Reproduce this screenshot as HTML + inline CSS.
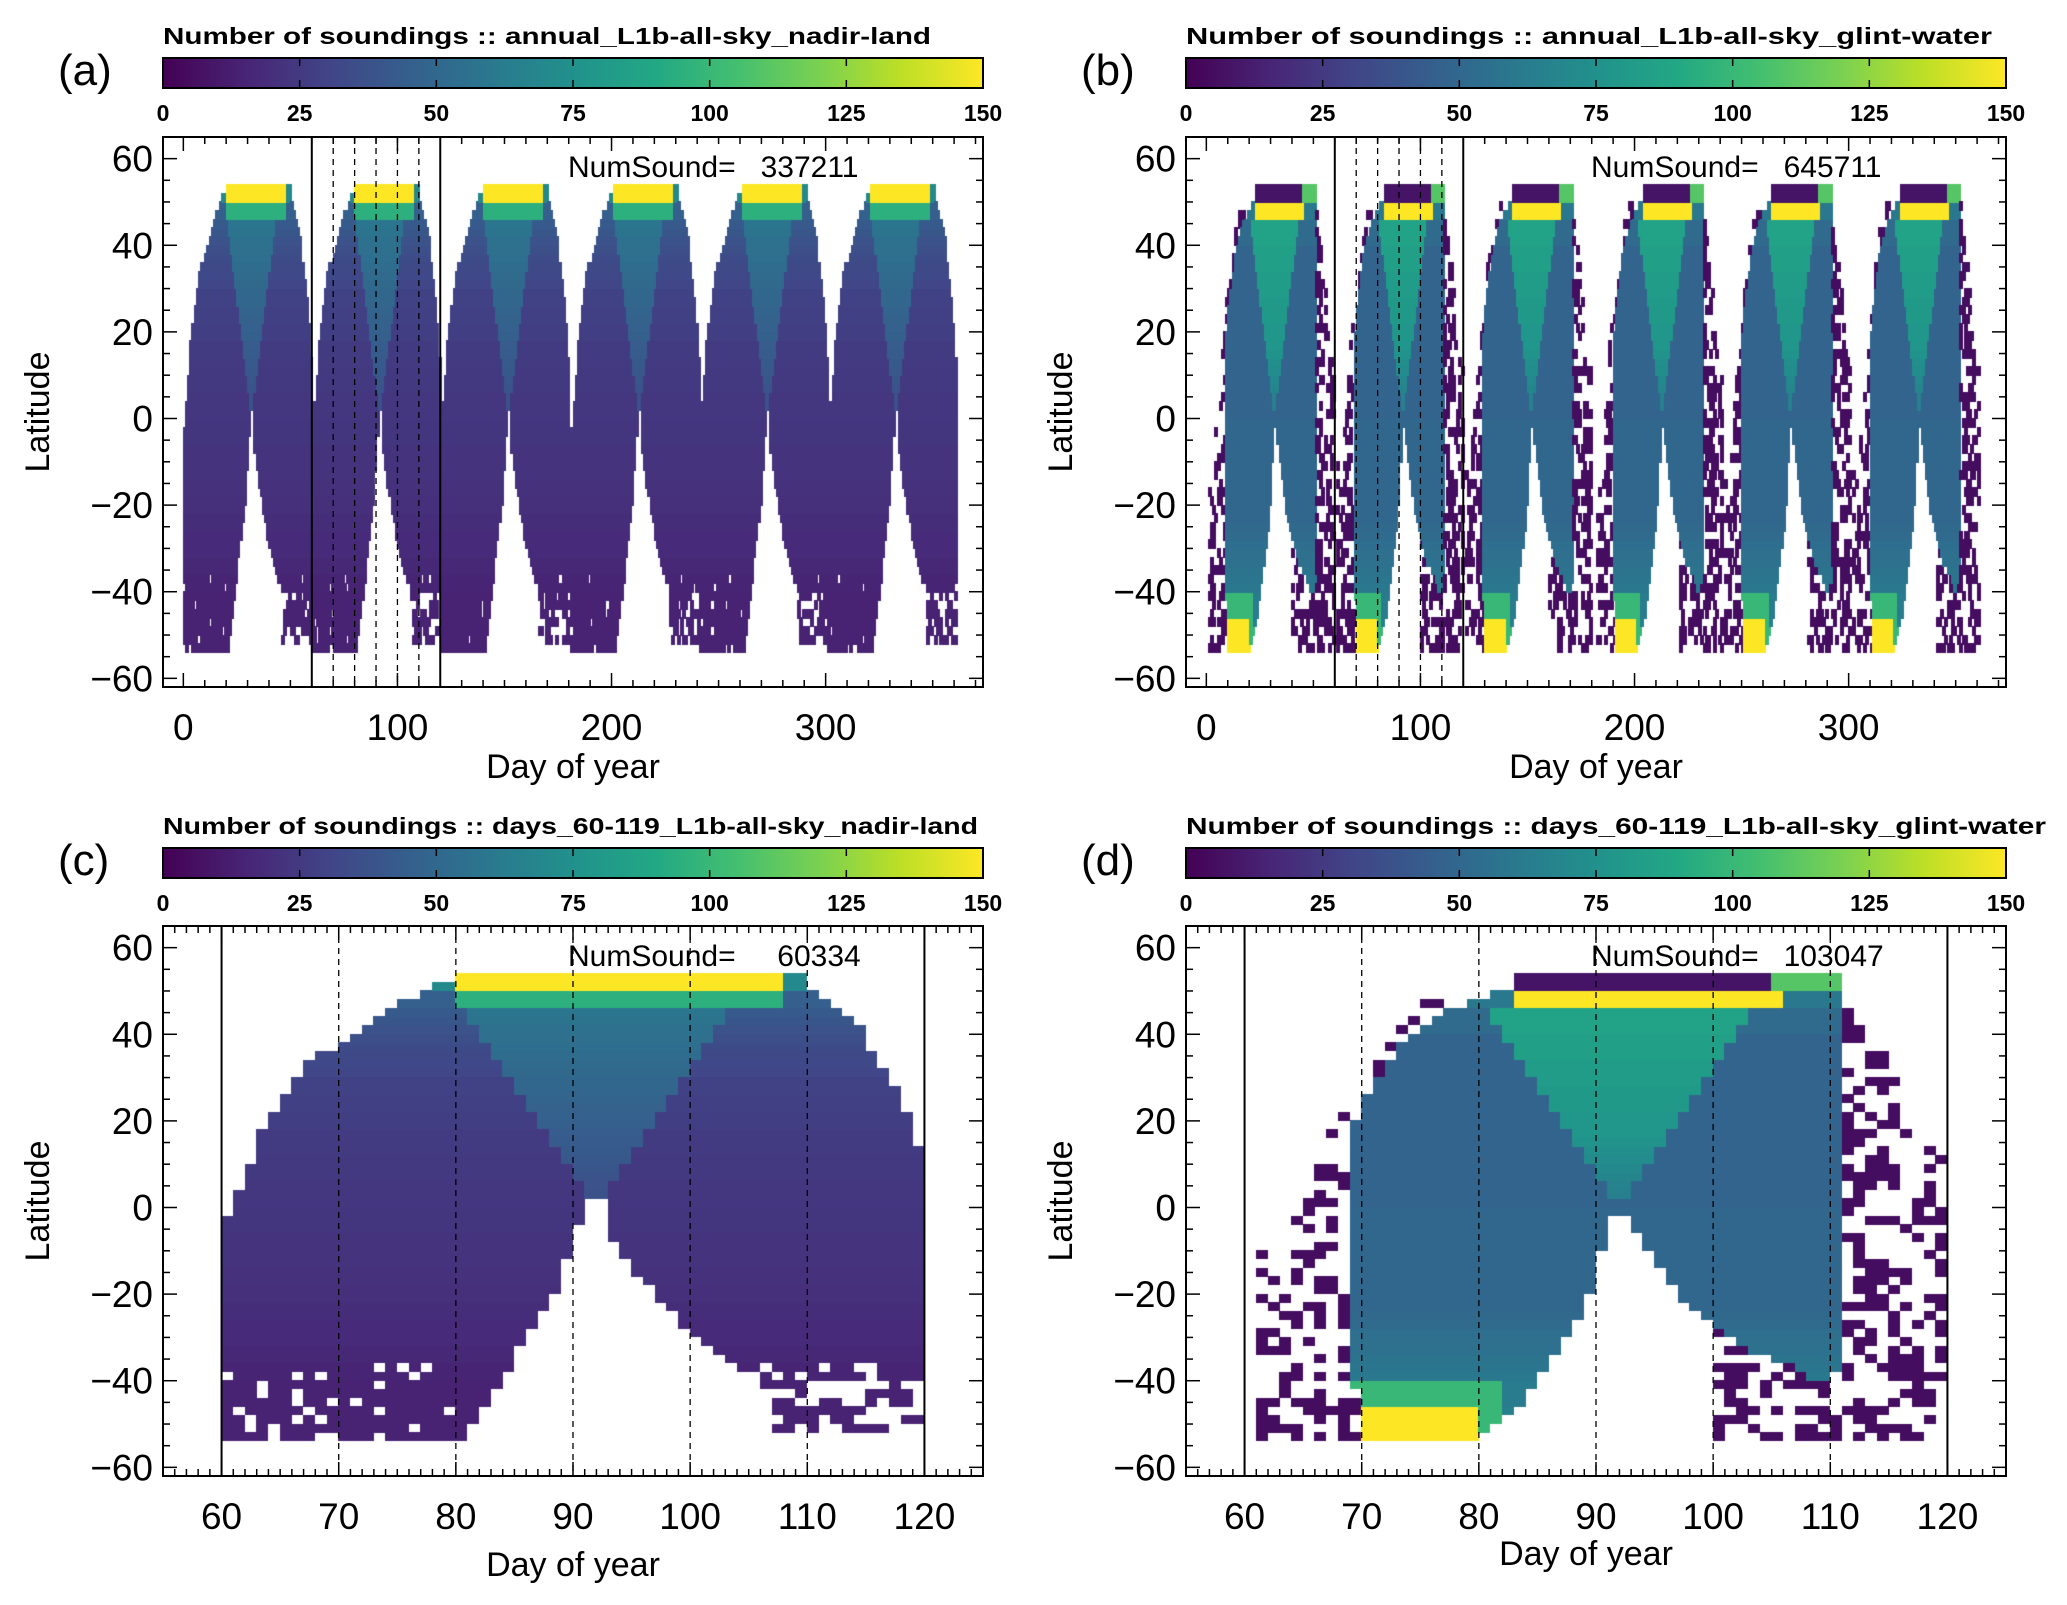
<!DOCTYPE html>
<html><head><meta charset="utf-8">
<style>
html,body{margin:0;padding:0;background:#fff;}
#wrap{position:relative;width:2067px;height:1605px;overflow:hidden;}
canvas,svg{position:absolute;left:0;top:0;}
text{font-family:"Liberation Sans",sans-serif;fill:#000;}
</style></head>
<body>
<div id="wrap">
<canvas id="cv" width="2067" height="1605"></canvas>
<svg id="sv" width="2067" height="1605" xmlns="http://www.w3.org/2000/svg">
<defs>
<linearGradient id="vir" x1="0" x2="1" y1="0" y2="0">
<stop offset="0" stop-color="#440154"/><stop offset="0.1" stop-color="#482475"/><stop offset="0.2" stop-color="#414487"/><stop offset="0.3" stop-color="#355f8d"/><stop offset="0.4" stop-color="#2a788e"/><stop offset="0.5" stop-color="#21918c"/><stop offset="0.6" stop-color="#22a884"/><stop offset="0.7" stop-color="#44bf70"/><stop offset="0.8" stop-color="#7ad151"/><stop offset="0.9" stop-color="#bddf26"/><stop offset="1" stop-color="#fde725"/>
</linearGradient>
</defs>
</svg>
</div>
<script>
// ---- data (one 60-day cycle profile, days 60..119, lat in degrees) ----
const northC=[-2,4,10,17,22,26,30,33,35,36,37,39,41,43,45,47,48,50,51,52,53,53,53,53,53,53,53,53,53,53,53,53,53,53,53,53,53,53,53,53,53,53,53,53,53,53,53,53,53,53,50,48,46,44,41,36,32,27,21,14];
const holeC=[-55,-55,-55,-55,-55,-55,-55,-55,-55,-55,-55,-55,-55,-55,-55,-55,-55,-55,-55,-55,-55,-50,-46,-42,-38,-33,-29,-25,-20,-12,-4,2,2,-8,-13,-16,-19,-22,-25,-28,-30,-33,-35,-37,-38,-39,-40,-40,-40,-40,-40,-40,-40,-40,-40,-40,-40,-40,-40,-40];
const northD=[-60,-8,-14,-20,-2,4,10,18,22,28,30,36,40,44,46,48,50,50,52,53,53,53,53,53,53,53,53,53,53,53,53,53,53,53,53,53,53,53,53,53,53,53,53,53,53,53,53,53,53,53,53,50,44,40,36,30,22,16,14,12];
const denseTopD=[-60,-60,-60,-60,-60,-60,-60,-60,-60,20,26,30,34,37,40,42,44,45,46,47,48,49,50,53,53,53,53,53,53,53,53,53,53,53,53,53,53,53,53,53,53,53,53,53,53,53,53,53,53,53,53,-60,-60,-60,-60,-60,-60,-60,-60,-60];
const holeD=[-55,-55,-55,-55,-55,-55,-55,-55,-55,-42,-55,-55,-55,-55,-55,-55,-55,-55,-55,-55,-52,-50,-48,-46,-42,-38,-35,-30,-26,-20,-10,-2,-2,-6,-10,-14,-18,-22,-24,-26,-28,-30,-32,-34,-34,-36,-37,-38,-40,-40,-38,-55,-55,-55,-55,-55,-55,-55,-55,-55];
// values per 2-degree latitude bin, south (-54) to north (52)
const landBase=[14,14,14,14,14,14,14,15,15,17,17,18,18,18,19,19,20,20,21,21,22,22,22,22,23,23,23,24,24,24,25,25,25,26,26,26,27,27,28,28,29,29,31,32,33,34,36,38,40,42,60,60,60,60];
const landTri=[0,0,0,0,0,0,0,0,0,0,0,0,0,0,0,0,0,0,0,0,0,0,0,0,0,0,0,36,37,38,39,40,41,42,43,44,45,46,47,48,49,50,51,52,53,54,55,56,57,58,60,60,60,60];
const waterBase=[65,65,65,65,62,62,62,60,58,57,56,55,54,52,51,50,50,50,50,50,50,50,50,50,50,50,50,48,48,48,48,48,48,48,48,48,48,48,48,48,48,48,48,48,48,48,48,52,52,52,60,60,60,60];
const waterTri=[0,0,0,0,0,0,0,0,0,0,0,0,0,0,0,0,0,0,0,0,0,0,0,0,0,0,0,62,64,66,68,70,72,74,76,78,78,78,80,80,80,82,82,82,84,84,84,86,86,86,90,90,90,90];
const cycleStarts=[0,60,120,181,241,301];
const cbTicks=[0,25,50,75,100,125,150];
const latTicks=[-60,-40,-20,0,20,40,60];
const annualTicks=[0,100,200,300];
const zoomTicks=[60,70,80,90,100,110,120];
const solidDays=[60,120];
const dashedDays=[70,80,90,100,110];
const panels=[
 {id:'a',kind:'land',annual:true,x0:163,y0:137,title:'Number of soundings :: annual_L1b-all-sky_nadir-land',num:'NumSound=\u00a0\u00a0\u00a0337211',cbY:58},
 {id:'b',kind:'water',annual:true,x0:1186,y0:137,title:'Number of soundings :: annual_L1b-all-sky_glint-water',num:'NumSound=\u00a0\u00a0\u00a0645711',cbY:58},
 {id:'c',kind:'land',annual:false,x0:163,y0:926,title:'Number of soundings :: days_60-119_L1b-all-sky_nadir-land',num:'NumSound=\u00a0\u00a0\u00a0\u00a0\u00a060334',cbY:848},
 {id:'d',kind:'water',annual:false,x0:1186,y0:926,title:'Number of soundings :: days_60-119_L1b-all-sky_glint-water',num:'NumSound=\u00a0\u00a0\u00a0103047',cbY:848}
];
const W=820,H=550;
const VIR=['#440154','#482475','#414487','#355f8d','#2a788e','#21918c','#22a884','#44bf70','#7ad151','#bddf26','#fde725'];
function hx(h){return [parseInt(h.substr(1,2),16),parseInt(h.substr(3,2),16),parseInt(h.substr(5,2),16)];}
function cmap(v){let t=Math.max(0,Math.min(1,v/150))*10;let i=Math.min(9,Math.floor(t));let f=t-i;let a=hx(VIR[i]),b=hx(VIR[i+1]);return 'rgb('+a.map((c,k)=>Math.round(c+(b[k]-c)*f)).join(',')+')';}
function hash(a,b){let h=(a*73856093)^(b*19349663);h=(h^(h>>>13))*1274126177;h=h^(h>>>16);return ((h>>>0)%1000)/1000;}
function landVal(p,Lc,i){
 if(i>=52)return (p>=20&&p<=47)?150:70;
 if(i>=50)return (p>=20&&p<=47)?95:45;
 if(Lc>0&&Math.abs(p-31.5)<0.25*Lc)return landTri[i];
 return landBase[i];
}
function waterVal(p,Lc,i){
 if(i>=52)return (p>=45&&p<=50)?110:8;
 if(i>=50)return (p>=23&&p<=45)?150:60;
 if(p>=10&&p<20&&Lc<-46)return 150;
 if(p>=9&&p<22&&Lc<-40)return 100;
 if(Lc>0&&Math.abs(p-31.5)<0.25*Lc)return waterTri[i];
 return waterBase[i];
}
function cell(kind,p,day,i){
 const Lc=-53+2*i;
 if(kind==='land'){
  if(Lc>northC[p])return null;
  if(Lc<=holeC[p]){
   if(p>=46&&Lc>-53&&hash(day,i)<0.5)return 14;
   return null;
  }
  if(Lc<-36&&(p<20||p>=45)&&hash(day,i)<0.12)return null;
  return landVal(p,Lc,i);
 }else{
  const dt=denseTopD[p];
  if(dt>-60&&Lc<=dt&&Lc>holeD[p])return waterVal(p,Lc,i);
  if(Lc>northD[p])return null;
  if(p>=18&&p<40)return null;
  if(hash(day,i)<0.38)return 5;
  return null;
 }
}
const cv=document.getElementById('cv');const ctx=cv.getContext('2d');
const NS='http://www.w3.org/2000/svg';const sv=document.getElementById('sv');
function el(tag,at,parent,txt){const e=document.createElementNS(NS,tag);for(const k in at)e.setAttribute(k,at[k]);if(txt!==undefined)e.textContent=txt;(parent||sv).appendChild(e);return e;}
panels.forEach(P=>{
 const xd=P.annual?[-9.5,373.5]:[55,125];const yd=[-62,65];
 const X=d=>P.x0+(d-xd[0])/(xd[1]-xd[0])*W;
 const Y=l=>P.y0+H-(l-yd[0])/(yd[1]-yd[0])*H;
 if(P.annual){
  cycleStarts.forEach((s,ci)=>{
   for(let p=0;p<60;p++){const day=s+p;if(day>366)continue;
    for(let i=0;i<54;i++){const v=cell(P.kind,p,day,i);if(v===null)continue;
     ctx.fillStyle=cmap(v);const x1=X(day),x2=X(day+1);ctx.fillRect(Math.floor(x1),Math.floor(Y(-52+2*i)),Math.ceil(x2-x1)+1,Math.ceil(Y(-54+2*i)-Y(-52+2*i))+1);}
   }
  });
 }else{
  for(let p=0;p<60;p++){const day=60+p;
   for(let i=0;i<54;i++){const v=cell(P.kind,p,day,i);if(v===null)continue;
    ctx.fillStyle=cmap(v);const x1=X(day),x2=X(day+1);ctx.fillRect(Math.floor(x1),Math.floor(Y(-52+2*i)),Math.ceil(x2-x1),Math.ceil(Y(-54+2*i)-Y(-52+2*i)));}
  }
 }
 const g=el('g',{});
 
 
 const lt=el('text',{x:P.x0-105,y:P.cbY+27,'font-size':44},g,'('+P.id+')');
 
 
 const ct=el('text',{x:P.x0,y:P.cbY-14,'font-size':23,'font-weight':'bold',textLength:P.id==='d'||P.id==='c'?(P.id==='d'?860:815):(P.id==='a'?768:806),lengthAdjust:'spacingAndGlyphs'},g,P.title);
 
 
 const cb=el('rect',{x:P.x0,y:P.cbY,width:W,height:30,fill:'url(#vir)',stroke:'#000','stroke-width':2},g);
 
 
 cbTicks.forEach(t=>{const x=P.x0+t/150*W;
  el('line',{x1:x,x2:x,y1:P.cbY,y2:P.cbY+8,stroke:'#000','stroke-width':1.5},g);
  el('line',{x1:x,x2:x,y1:P.cbY+30,y2:P.cbY+22,stroke:'#000','stroke-width':1.5},g);
  const tl=el('text',{x:x,y:P.cbY+63,'font-size':23,'font-weight':'bold','text-anchor':'middle'},g,String(t));
  
  
 });
 solidDays.forEach(d=>{el('line',{x1:X(d),x2:X(d),y1:P.y0,y2:P.y0+H,stroke:'#000','stroke-width':2},g);});
 dashedDays.forEach(d=>{el('line',{x1:X(d),x2:X(d),y1:P.y0,y2:P.y0+H,stroke:'#000','stroke-width':1.3,'stroke-dasharray':'6,5'},g);});
 const fr=el('rect',{x:P.x0,y:P.y0,width:W,height:H,fill:'none',stroke:'#000','stroke-width':2},g);
 
 
 for(let l=-60;l<=65;l+=5){const y=Y(l);const len=(l%20===0)?14:7;
  el('line',{x1:P.x0,x2:P.x0+len,y1:y,y2:y,stroke:'#000','stroke-width':1.5},g);
  el('line',{x1:P.x0+W,x2:P.x0+W-len,y1:y,y2:y,stroke:'#000','stroke-width':1.5},g);}
 latTicks.forEach(l=>{const t=el('text',{x:P.x0-10,y:Y(l)+13,'font-size':37,'text-anchor':'end'},g,(l<0?'\u2212':'')+Math.abs(l));
  
  });
 const step=P.annual?10:1,maj=P.annual?100:10;
 for(let d=Math.ceil(xd[0]/step)*step;d<=xd[1];d+=step){const x=X(d);const len=(d%maj===0)?14:7;
  el('line',{x1:x,x2:x,y1:P.y0+H,y2:P.y0+H-len,stroke:'#000','stroke-width':1.5},g);
  el('line',{x1:x,x2:x,y1:P.y0,y2:P.y0+len,stroke:'#000','stroke-width':1.5},g);}
 (P.annual?annualTicks:zoomTicks).forEach(d=>{const t=el('text',{x:X(d),y:P.y0+H+53,'font-size':37,'text-anchor':'middle'},g,String(d));
  
  });
 const xt=el('text',{x:P.x0+W/2+(P.id==='d'?-10:0),y:P.y0+H+(P.id==='a'||P.id==='b'?91:(P.id==='c'?100:89)),'font-size':34,'text-anchor':'middle'},g,'Day of year');
 
 
 const yt=el('text',{x:0,y:0,'font-size':34,'text-anchor':'middle',transform:'translate('+(P.x0-114)+','+(P.y0+H/2)+') rotate(-90)'},g,'Latitude');
 
 
 const nt=el('text',{x:P.x0+405,y:P.y0+40,'font-size':30},g,P.num);
 
 
});
</script>
</body></html>
